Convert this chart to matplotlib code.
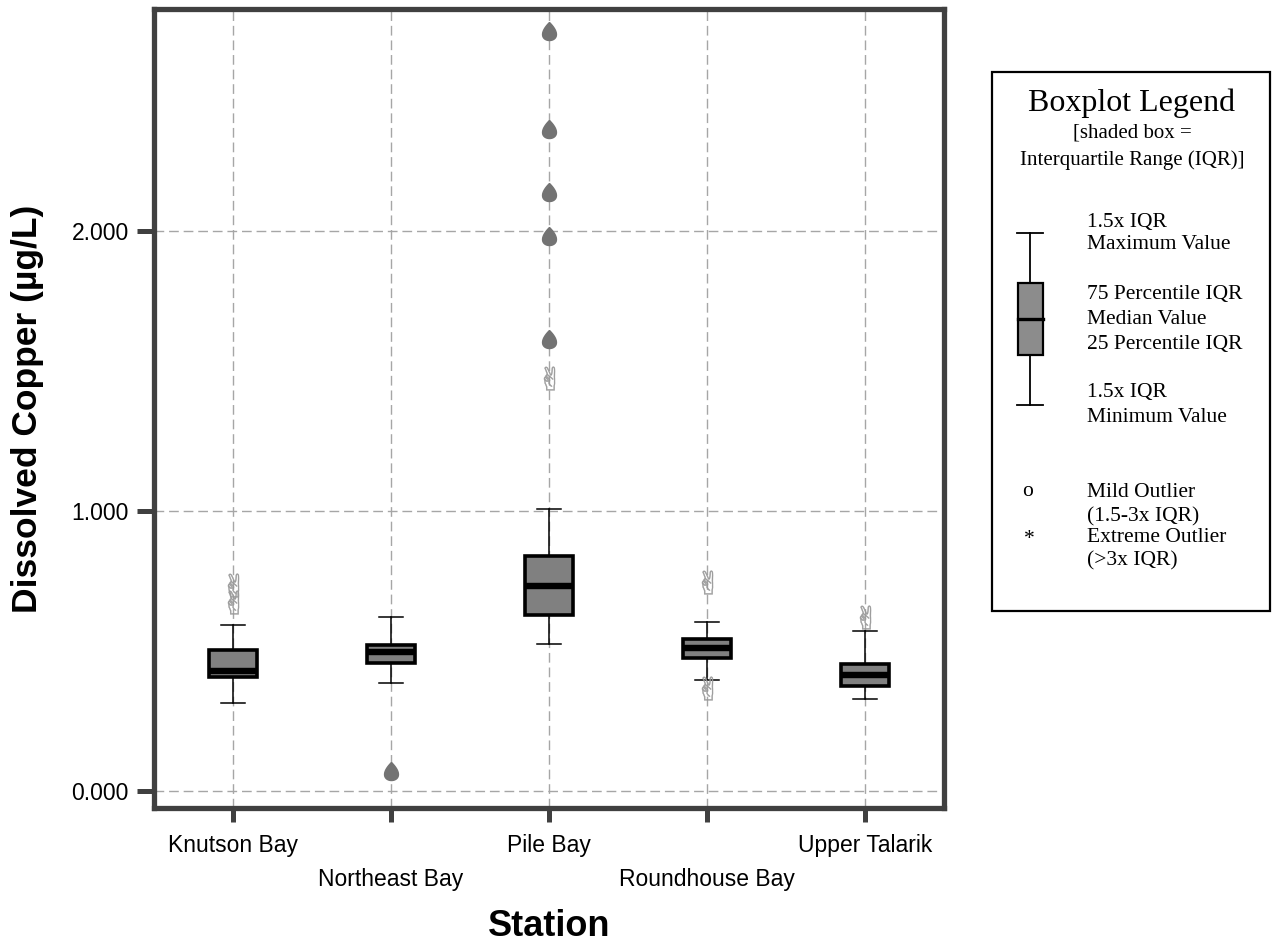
import numpy as np
import matplotlib
matplotlib.use("Agg")
import matplotlib.pyplot as plt
from matplotlib.path import Path
from matplotlib.patches import Rectangle

# ---------------- data ----------------
stations = ["Knutson Bay", "Northeast Bay", "Pile Bay", "Roundhouse Bay", "Upper Talarik"]
whisker_low = [0.315, 0.386, 0.524, 0.396, 0.327]
q1 = [0.407, 0.457, 0.630, 0.474, 0.373]
median = [0.430, 0.496, 0.732, 0.509, 0.414]
q3 = [0.504, 0.521, 0.839, 0.543, 0.455]
whisker_high = [0.593, 0.621, 1.007, 0.602, 0.572]
# mild outliers (station index, value)
mild_station = [1, 1, 3, 4, 4, 5]
mild_value = [0.735, 0.675, 1.474, 0.748, 0.367, 0.622]
# extreme outliers
extreme_station = [2, 3, 3, 3, 3, 3]
extreme_value = [0.070, 1.613, 1.982, 2.140, 2.366, 2.714]
y_ticks = [0.0, 1.0, 2.0]
y_tick_labels = ["0.000", "1.000", "2.000"]

W, H = 1275, 948
fig = plt.figure(figsize=(W / 100, H / 100), dpi=100)
ax = fig.add_axes([154 / W, 1 - 808 / H, 790 / W, 799 / H])

dark = "#404040"
sans = "Liberation Sans"
serif = "Liberation Serif"

stats = []
for i in range(len(stations)):
    stats.append(dict(med=median[i], q1=q1[i], q3=q3[i], whislo=whisker_low[i],
                      whishi=whisker_high[i], fliers=[]))
pos = np.arange(1, len(stations) + 1)
ax.bxp(stats, positions=pos, widths=0.3, capwidths=0.15, showfliers=False,
       patch_artist=True,
       boxprops=dict(facecolor="#808080", edgecolor="black", linewidth=2.6),
       medianprops=dict(color="black", linewidth=4.6),
       whiskerprops=dict(color="black", linewidth=1.1),
       capprops=dict(color="black", linewidth=1.1), zorder=3)

# teardrop marker for extreme outliers
t = np.linspace(0, 2 * np.pi, 60)
drop = Path(np.column_stack([np.sin(t) * np.sin(t / 2), np.cos(t)]))
ax.plot(extreme_station, extreme_value, linestyle="none", marker=drop,
        markersize=13, color="#737373", zorder=4)
ax.plot(mild_station, mild_value, linestyle="none", marker="$\u270c$",
        markersize=17, color="#9a9a9a", markeredgewidth=0.3, zorder=4)

ax.set_xlim(0.5, 5.5)
ax.set_ylim(-0.061, 2.793)
ax.set_yticks(y_ticks)
ax.set_yticklabels(y_tick_labels, fontsize=16.5, family=sans)
ax.set_xticks(pos)
ax.set_xticklabels(stations, fontsize=16.5, family=sans)

ax.grid(True, color="#a6a6a6", linestyle=(0, (7, 3.5)), linewidth=1.0, zorder=0)
ax.set_axisbelow(True)
for s in ax.spines.values():
    s.set_linewidth(3.8)
    s.set_color(dark)
ax.tick_params(axis="both", direction="out", width=3.6, color=dark)
ax.tick_params(axis="y", length=12, pad=6)
ax.tick_params(axis="x", length=10, pad=9)
for k, tk in enumerate(ax.xaxis.get_major_ticks()):
    if k % 2 == 1:
        tk.set_pad(33)

ax.set_ylabel("Dissolved Copper (\u00b5g/L)", fontsize=25.5, fontweight="bold", family=sans, labelpad=20)
ax.set_xlabel("Station", fontsize=26, fontweight="bold", family=sans, labelpad=13)

# ---------------- legend box ----------------
lax = fig.add_axes([0, 0, 1, 1], facecolor="none")
lax.set_xlim(0, W)
lax.set_ylim(H, 0)
lax.axis("off")
lax.add_patch(Rectangle((992, 72), 278, 539, fill=False, edgecolor="black", linewidth=1.6))
lax.text(1132, 103, "Boxplot Legend", family=serif, fontsize=23, ha="center", va="center")
lax.text(1132, 133, "[shaded box =", family=serif, fontsize=15, ha="center", va="center")
lax.text(1132, 160, "Interquartile Range (IQR)]", family=serif, fontsize=15, ha="center", va="center")
# icon
cx = 1030
lax.plot([cx, cx], [233, 283], color="black", lw=1.3)
lax.plot([cx, cx], [355, 405], color="black", lw=1.3)
lax.plot([cx - 13, cx + 13], [233, 233], color="black", lw=1.3)
lax.plot([cx - 13, cx + 13], [405, 405], color="black", lw=1.3)
lax.add_patch(Rectangle((cx - 12.5, 283), 25, 72, facecolor="#8c8c8c", edgecolor="black", linewidth=1.6))
lax.plot([cx - 12.5, cx + 12.5], [319, 319], color="black", lw=2.4)
items = [(222, "1.5x IQR"), (244, "Maximum Value"), (294, "75 Percentile IQR"),
         (319, "Median Value"), (344, "25 Percentile IQR"), (392, "1.5x IQR"),
         (417, "Minimum Value"), (492, "Mild Outlier"), (517, "(1.5-3x IQR)"),
         (537, "Extreme Outlier"), (561, "(>3x IQR)")]
for y, s in items:
    lax.text(1087, y, s, family=serif, fontsize=15.5, ha="left", va="center")
lax.text(1028, 491, "o", family=serif, fontsize=15.5, ha="center", va="center")
lax.text(1029, 539, "*", family=serif, fontsize=15.5, ha="center", va="center")

fig.savefig("out.png", dpi=100)
